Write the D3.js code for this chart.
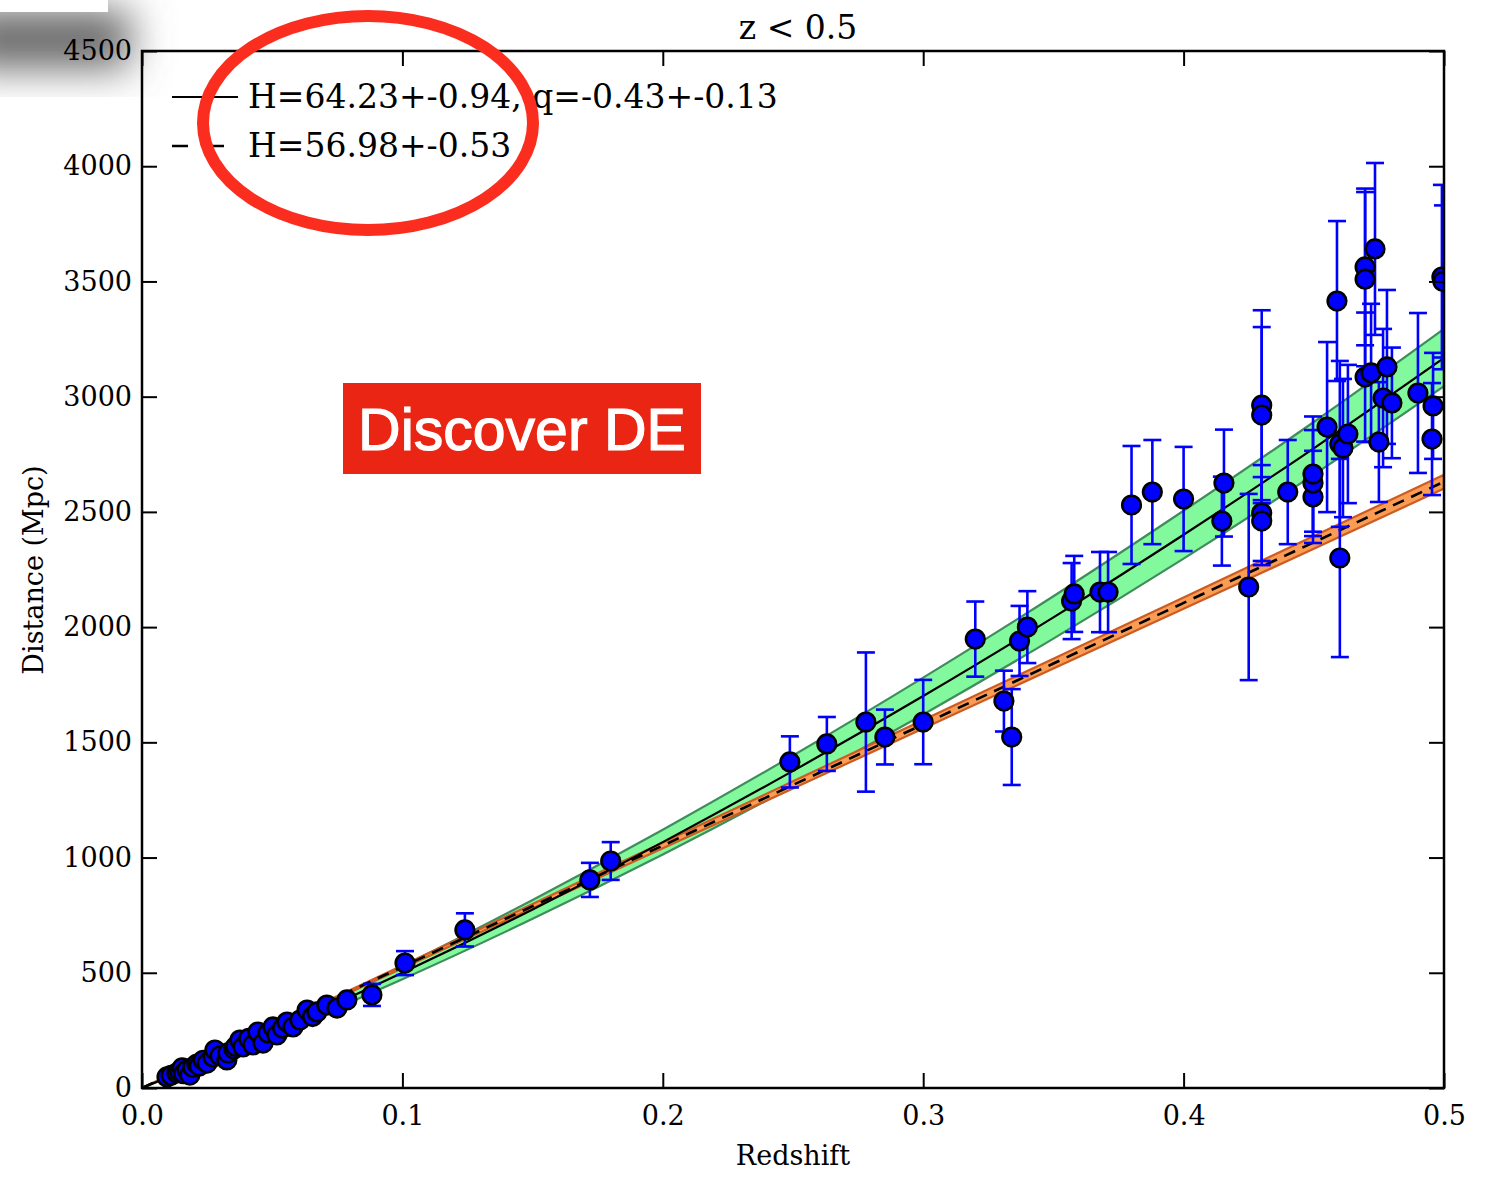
<!DOCTYPE html>
<html>
<head>
<meta charset="utf-8">
<script src="https://cdn.jsdelivr.net/npm/d3@7"></script>
<style>
  body { margin: 0; background: #fff; }
  svg { display: block; }
  text { font-family: "DejaVu Serif", serif; fill: #000; }
</style>
</head>
<body>
<div id="container"></div>
<script>
// observed supernovae: redshift, distance (Mpc), error (Mpc)
const zObs = [0.0096,0.0112,0.0134,0.0145,0.0154,0.016,0.0173,0.0184,0.0195,0.0211,0.022,0.0235,0.025,0.0273,0.028,0.030,0.0326,0.033,0.0353,0.036,0.0376,0.0388,0.041,0.0426,0.0445,0.0465,0.0484,0.0503,0.0518,0.054,0.0557,0.058,0.0607,0.0634,0.0655,0.0672,0.071,0.0749,0.0787,0.0883,
  0.101,0.124,0.172,0.180,0.2488,0.263,0.278,0.2853,0.300,0.320,0.331,0.334,0.337,0.340,0.357,0.358,0.3679,0.371,
  0.380,0.388,0.400,0.4155,0.4147,0.425,0.430,0.430,0.430,0.430,0.440,0.4497,0.4497,0.4497,0.4551,0.4589,0.4600,0.4600,0.4612,0.4631,
  0.4697,0.4697,0.4697,0.4720,0.4735,0.4750,0.4766,0.4781,0.4800,0.4900,0.4954,0.4958,0.4992,0.4996]
const dObs = [48,55,65,70,87,62,78,56,90,104,95,120,108,135,165,140,122,152,169,180,208,178,215,187,243,195,239,265,230,260,286,265,295,338,310,330,360,347,382,404,
  542,686,903,985,1415,1493,1588,1523,1588,1948,1679,1523,1940,2000,2113,2144,2152,2152,
  2530,2586,2556,2625,2460,2174,2963,2920,2495,2460,2586,2565,2625,2664,2868,3415,2300,2795,2777,2838,
  3563,3510,3085,3103,3641,2803,2994,3129,2973,3016,2816,2960,3519,3500]
const dErr = [3,3,4,4,5,4,5,4,5,6,6,7,6,7,8,8,7,8,9,9,10,9,11,10,12,10,12,13,12,13,14,13,15,17,15,16,18,17,19,48,
  52,72,74,82,111,117,302,119,183,163,132,208,152,156,165,165,174,174,
  256,226,226,232,193,404,412,382,208,191,226,200,230,250,369,347,430,360,300,300,
  340,378,280,300,373,260,300,334,240,347,243,230,400,330]

// fitted curves
const zFit = [0,0.05,0.1,0.15,0.2,0.25,0.3,0.35,0.4,0.45,0.5]
const fitHq   = [0,242,500,775,1067,1376,1701,2042,2401,2776,3168]
const fitHqHi = [0,255,528,816,1121,1443,1781,2134,2505,2890,3294]
const fitHqLo = [0,229,472,734,1013,1309,1621,1950,2297,2662,3046]
const fitH    = [0,263,526,789,1052,1315,1578,1842,2105,2368,2631]
const fitHHi  = [0,266,532,798,1065,1331,1597,1863,2129,2395,2661]
const fitHLo  = [0,260,520,780,1040,1300,1560,1820,2080,2340,2601]

const xTicks = [0.0,0.1,0.2,0.3,0.4,0.5]
const xTickLabels = ["0.0","0.1","0.2","0.3","0.4","0.5"]
const yTicks = [0,500,1000,1500,2000,2500,3000,3500,4000,4500]
const legendLabels = ["H=64.23+-0.94, q=-0.43+-0.13", "H=56.98+-0.53"]

const width = 1489
const height = 1188
const mLeft = 142, mRight = 1444, mTop = 51, mBottom = 1088

let svg = d3.select("#container").append("svg")
    .attr("width", width)
    .attr("height", height)

let defs = svg.append("defs")
defs.append("clipPath").attr("id","plotclip")
    .append("rect").attr("x",mLeft).attr("y",mTop).attr("width",mRight-mLeft).attr("height",mBottom-mTop)
defs.append("filter").attr("id","blur").attr("x","-50%").attr("y","-50%").attr("width","200%").attr("height","200%")
    .append("feGaussianBlur").attr("stdDeviation",20)

// screenshot shadow in the corner
svg.append("rect").attr("x",-40).attr("y",10).attr("width",170).attr("height",58)
    .attr("fill","#666").attr("filter","url(#blur)")
svg.append("rect").attr("x",0).attr("y",0).attr("width",108).attr("height",12).attr("fill","#fff")

let xScale = d3.scaleLinear().domain([0,0.5]).range([mLeft,mRight])
let yScale = d3.scaleLinear().domain([0,4500]).range([mBottom,mTop])

let plot = svg.append("g").attr("clip-path","url(#plotclip)")

const band = d3.area()
    .x((d,i) => xScale(zFit[i]))
    .y0(d => yScale(d[0]))
    .y1(d => yScale(d[1]))
    .curve(d3.curveMonotoneX)
const line = d3.line()
    .x((d,i) => xScale(zFit[i]))
    .y(d => yScale(d))
    .curve(d3.curveMonotoneX)

plot.append("path")
    .attr("d", band(zFit.map((z,i) => [fitHqLo[i], fitHqHi[i]])))
    .attr("fill","#82f99c")
    .attr("stroke","#3f8c5c")
    .attr("stroke-width",2.2)
plot.append("path")
    .attr("d", band(zFit.map((z,i) => [fitHLo[i], fitHHi[i]])))
    .attr("fill","#fb9c55")
    .attr("stroke","#cc5c22")
    .attr("stroke-width",2.2)
plot.append("path")
    .attr("d", line(fitHq))
    .attr("fill","none").attr("stroke","#000").attr("stroke-width",2.2)
plot.append("path")
    .attr("d", line(fitH))
    .attr("fill","none").attr("stroke","#000").attr("stroke-width",2.6)
    .attr("stroke-dasharray","12,8")

const obs = zObs.map((z,i) => ({z: z, d: dObs[i], e: dErr[i]}))

let bars = plot.append("g").attr("stroke","#0000ff").attr("stroke-width",2.6)
bars.selectAll(".eb").data(obs).enter().append("line")
    .attr("x1", d => xScale(d.z)).attr("x2", d => xScale(d.z))
    .attr("y1", d => yScale(d.d - d.e)).attr("y2", d => yScale(d.d + d.e))
bars.selectAll(".cap-hi").data(obs).enter().append("line")
    .attr("x1", d => xScale(d.z) - 9).attr("x2", d => xScale(d.z) + 9)
    .attr("y1", d => yScale(d.d + d.e)).attr("y2", d => yScale(d.d + d.e))
bars.selectAll(".cap-lo").data(obs).enter().append("line")
    .attr("x1", d => xScale(d.z) - 9).attr("x2", d => xScale(d.z) + 9)
    .attr("y1", d => yScale(d.d - d.e)).attr("y2", d => yScale(d.d - d.e))

plot.append("g").selectAll("circle").data(obs).enter().append("circle")
    .attr("cx", d => xScale(d.z))
    .attr("cy", d => yScale(d.d))
    .attr("r", 9.3)
    .attr("fill","#0000ff")
    .attr("stroke","#000")
    .attr("stroke-width",2.6)

// axes, ticks pointing inward on all four sides
const tickLen = 15
let gx = svg.append("g").attr("transform","translate(0,"+mBottom+")")
    .call(d3.axisBottom(xScale).tickValues(xTicks).tickSize(-tickLen).tickPadding(tickLen+13)
        .tickFormat((d,i) => xTickLabels[i]))
let gxt = svg.append("g").attr("transform","translate(0,"+mTop+")")
    .call(d3.axisTop(xScale).tickValues(xTicks).tickSize(-tickLen).tickFormat(""))
let gy = svg.append("g").attr("transform","translate("+mLeft+",0)")
    .call(d3.axisLeft(yScale).tickValues(yTicks).tickSize(-tickLen).tickPadding(10).tickFormat(d3.format("d")))
let gyr = svg.append("g").attr("transform","translate("+mRight+",0)")
    .call(d3.axisRight(yScale).tickValues(yTicks).tickSize(-tickLen).tickFormat(""))

;[gx,gxt,gy,gyr].forEach(g => {
  g.select(".domain").remove()
  g.selectAll(".tick line").attr("stroke","#000").attr("stroke-width",2)
  g.selectAll(".tick text").style("font-family","DejaVu Serif").style("font-size","27px").attr("fill","#000")
})
gx.selectAll(".tick text").attr("dy","0.35em")

svg.append("rect")
    .attr("x",mLeft).attr("y",mTop).attr("width",mRight-mLeft).attr("height",mBottom-mTop)
    .attr("fill","none").attr("stroke","#000").attr("stroke-width",2.5)

svg.append("text").attr("x",798).attr("y",39).attr("text-anchor","middle")
    .style("font-size","33px").text("z < 0.5")
svg.append("text").attr("x",793).attr("y",1165).attr("text-anchor","middle")
    .style("font-size","27px").text("Redshift")
svg.append("text").attr("transform","translate(43,570) rotate(-90)").attr("text-anchor","middle")
    .style("font-size","27px").text("Distance (Mpc)")

// legend
let legend = svg.append("g")
legend.append("line").attr("x1",172).attr("x2",238).attr("y1",97).attr("y2",97)
    .attr("stroke","#000").attr("stroke-width",2.2)
legend.append("line").attr("x1",172).attr("x2",238).attr("y1",146).attr("y2",146)
    .attr("stroke","#000").attr("stroke-width",2.6).attr("stroke-dasharray","16,20")
legend.selectAll("text").data(legendLabels).enter().append("text")
    .attr("x",248).attr("y",(d,i) => 108 + i*49)
    .style("font-size","33px")
    .text(d => d)

// annotations
svg.append("ellipse").attr("cx",368).attr("cy",123).attr("rx",165).attr("ry",107)
    .attr("fill","none").attr("stroke","#fb2d1e").attr("stroke-width",12)
svg.append("rect").attr("x",343).attr("y",383).attr("width",358).attr("height",91)
    .attr("fill","#ea2513")
svg.append("text").attr("x",522).attr("y",450).attr("text-anchor","middle")
    .style("font-family","Liberation Sans, Arial, sans-serif").style("font-size","59px")
    .style("fill","#fff").style("stroke","#fff").style("stroke-width","1.2px")
    .text("Discover DE")
</script>
</body>
</html>
